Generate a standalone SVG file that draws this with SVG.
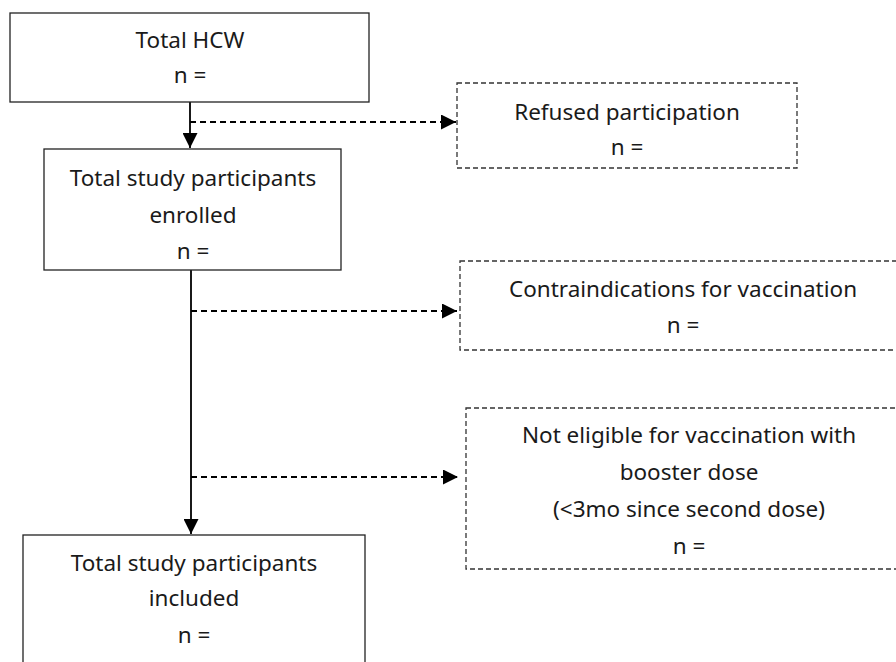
<svg xmlns="http://www.w3.org/2000/svg" width="896" height="662" viewBox="0 0 896 662">
<defs>
<style>
.solid{fill:#fff;stroke:#222;stroke-width:1.3}
.dash{fill:#fff;stroke:#333;stroke-width:1.3;stroke-dasharray:5 3}
.t{font-family:"Noto Sans","Open Sans",sans-serif;font-size:22.5px;fill:#1a1a1a;text-anchor:middle}
.line{stroke:#000;stroke-width:1.8;fill:none}
.dline{stroke:#000;stroke-width:1.8;fill:none;stroke-dasharray:6 4}
</style>
<marker id="ahb" viewBox="0 0 10 10" refX="10" refY="5" markerWidth="15" markerHeight="15" markerUnits="userSpaceOnUse" orient="auto">
<path d="M0,0 L10,5 L0,10 z" fill="#000"/>
</marker>
</defs>
<rect width="896" height="662" fill="#fff"/>
<g id="connectors">
<line class="line" x1="190" y1="102" x2="190" y2="148" marker-end="url(#ahb)"/>
<line class="dline" x1="190" y1="122" x2="456" y2="122" marker-end="url(#ahb)"/>
<line class="line" x1="191" y1="270" x2="191" y2="534" marker-end="url(#ahb)"/>
<line class="dline" x1="191" y1="311" x2="457" y2="311" marker-end="url(#ahb)"/>
<line class="dline" x1="191" y1="477" x2="458" y2="477" marker-end="url(#ahb)"/>
</g>
<g id="n1">
<rect class="solid" x="10" y="13" width="359" height="89"/>
<text class="t" x="190" y="48">Total HCW</text>
<text class="t" x="190" y="83">n =</text>
</g>
<g id="n2">
<rect class="solid" x="44" y="149" width="297" height="121"/>
<text class="t" x="193" y="186">Total study participants</text>
<text class="t" x="193" y="223">enrolled</text>
<text class="t" x="193" y="259">n =</text>
</g>
<g id="n3">
<rect class="dash" x="457" y="83" width="340" height="85"/>
<text class="t" x="627" y="120">Refused participation</text>
<text class="t" x="627" y="155">n =</text>
</g>
<g id="n4">
<rect class="dash" x="460" y="261" width="460" height="89"/>
<text class="t" x="683" y="297">Contraindications for vaccination</text>
<text class="t" x="683" y="333">n =</text>
</g>
<g id="n5">
<rect class="dash" x="466" y="408" width="460" height="161"/>
<text class="t" x="689" y="443">Not eligible for vaccination with</text>
<text class="t" x="689" y="480">booster dose</text>
<text class="t" x="689" y="517">(&lt;3mo since second dose)</text>
<text class="t" x="689" y="554">n =</text>
</g>
<g id="n6">
<rect class="solid" x="23" y="535" width="342" height="160"/>
<text class="t" x="194" y="571">Total study participants</text>
<text class="t" x="194" y="606">included</text>
<text class="t" x="194" y="643">n =</text>
</g>
</svg>
